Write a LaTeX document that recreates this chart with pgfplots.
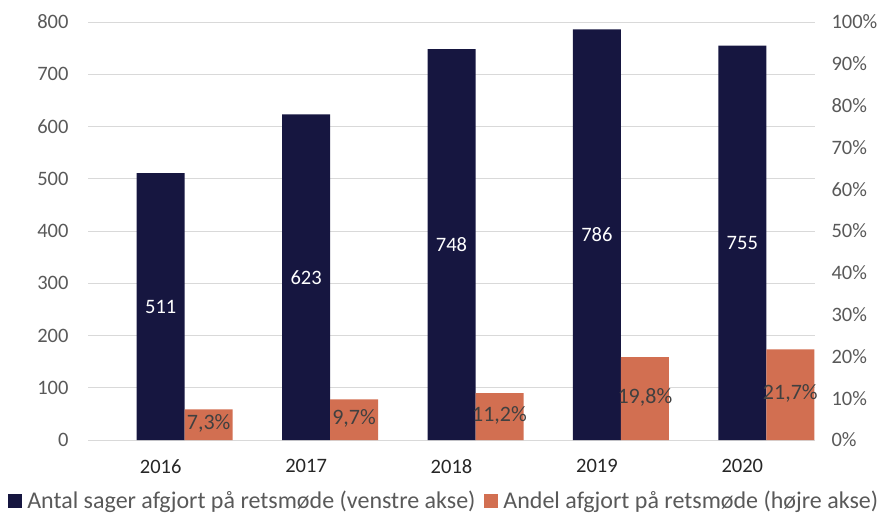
\documentclass[border=0pt]{standalone}
\usepackage{pgfplots}
\pgfplotsset{compat=1.18}
\usepackage{fontspec}
\setmainfont{Carlito}
\definecolor{navy}{RGB}{22,22,64}
\definecolor{orng}{RGB}{210,111,81}
\definecolor{tickgray}{RGB}{89,89,89}
\definecolor{gridgray}{RGB}{217,217,217}
\definecolor{lblgray}{RGB}{64,64,64}
\begin{document}
\begin{tikzpicture}
\useasboundingbox (-88pt,-74pt) rectangle (792pt,440pt);
\pgfplotsset{
  common/.style={
    at={(0,0)}, anchor=south west,
    scale only axis, width=727pt, height=418pt,
    xmin=-0.5, xmax=4.5,
    axis line style={draw=none},
    major tick length=0pt,
    /pgf/number format/assume math mode=true,
    /pgf/number format/use comma,
    tick label style={font=\fontsize{20.5}{24}\selectfont, text=tickgray},
    ybar, bar width=48pt,
  }
}
\begin{axis}[common,
  ymin=0, ymax=800, ytick={0,100,...,800},
  ymajorgrids, grid style={gridgray, line width=0.8pt},
  xtick={0,1,2,3,4}, xticklabels={2016,2017,2018,2019,2020},
  xticklabel style={text=black!85, yshift=-16pt},
  yticklabel style={xshift=-16pt},
  nodes near coords,
  visualization depends on={rawy \as \rawy},
  every node near coord/.append style={anchor=center, text=white,
    font=\fontsize{20.5}{24}\selectfont, yshift={-0.26125pt*\rawy}},
]
\addplot[fill=navy, draw=none, bar shift=0pt] coordinates {(0,511) (1,623) (2,748) (3,786) (4,755)};
\end{axis}
\begin{axis}[common,
  ymin=0, ymax=100, ytick={0,10,...,100},
  axis y line*=right,
  xtick=\empty,
  yticklabel={\pgfmathprintnumber{\tick}\%},
  yticklabel style={xshift=13pt},
  nodes near coords={\pgfmathprintnumber[fixed,fixed zerofill,precision=1,use comma]{\pgfplotspointmeta}\%},
  visualization depends on={rawy \as \rawy},
  every node near coord/.append style={anchor=center, text=lblgray,
    font=\fontsize{22}{26}\selectfont, yshift={-2.09pt*\rawy+1pt}},
  legend style={at={(0.49,-0.145)}, anchor=center, draw=none, fill=none,
    legend columns=2, font=\fontsize{24}{28}\selectfont, text=tickgray,
    /tikz/every even column/.append style={column sep=7pt},
    inner sep=0pt},
  legend image code/.code={\path[#1] (0pt,-7pt) rectangle (14pt,7pt); \path (17pt,0pt);},
]
\addlegendimage{fill=navy, draw=none}
\addlegendentry{Antal sager afgjort på retsmøde (venstre akse)}
\addplot[fill=orng, draw=none, bar shift=48pt] coordinates {(0,7.3) (1,9.7) (2,11.2) (3,19.8) (4,21.7)};
\addlegendentry{Andel afgjort på retsmøde (højre akse)}
\end{axis}
\end{tikzpicture}
\end{document}
